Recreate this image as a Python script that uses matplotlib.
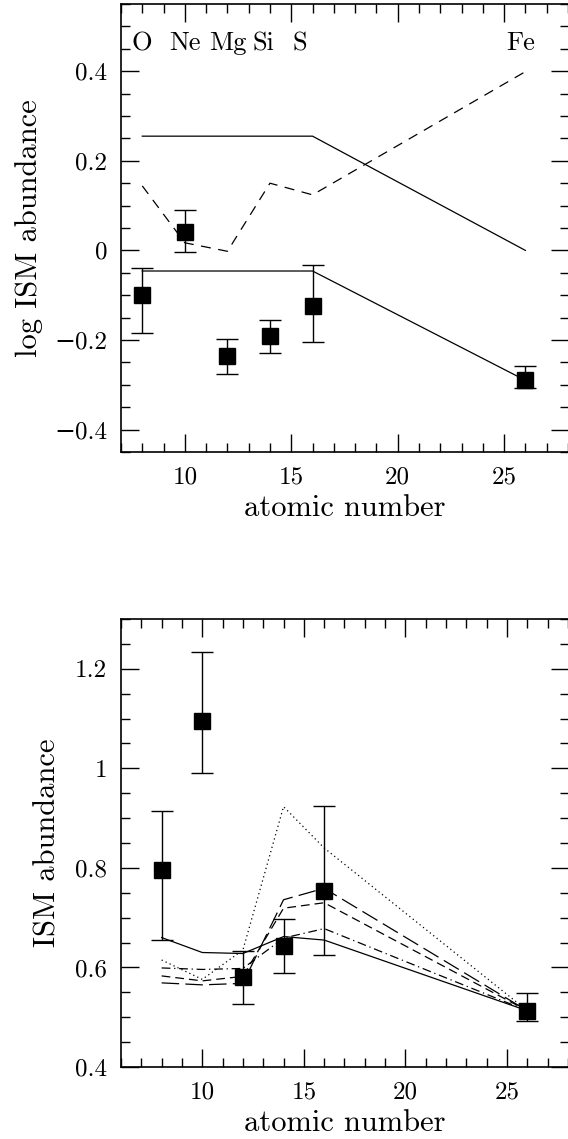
import numpy as np
import matplotlib
matplotlib.use("Agg")
import matplotlib.pyplot as plt
from matplotlib.ticker import MultipleLocator, FuncFormatter

plt.rcParams['font.family'] = ['cmr10', 'DejaVu Serif']

# --- top panel data (log ISM abundance) ---
z = [8, 10, 12, 14, 16, 26]
log_ab = [-0.099, 0.041, -0.235, -0.192, -0.123, -0.290]
log_up = [0.060, 0.049, 0.037, 0.036, 0.090, 0.031]
log_lo = [0.085, 0.044, 0.042, 0.037, 0.081, 0.017]

model_hi = [0.255, 0.255, 0.255, 0.255, 0.255, 0.0]
model_lo = [-0.046, -0.046, -0.046, -0.046, -0.046, -0.290]
model_dash = [0.144, 0.017, -0.002, 0.150, 0.124, 0.399]

elem_names = ['O', 'Ne', 'Mg', 'Si', 'S', 'Fe']
elem_x = [8.0, 10.0, 12.0, 13.7, 15.4, 25.8]

# --- bottom panel data (linear ISM abundance) ---
ab = [0.795, 1.095, 0.580, 0.643, 0.754, 0.513]
ab_up = [0.120, 0.138, 0.053, 0.054, 0.171, 0.035]
ab_lo = [0.140, 0.104, 0.053, 0.055, 0.129, 0.021]

m_solid = [0.660, 0.630, 0.628, 0.662, 0.655, 0.513]
m_dot = [0.615, 0.576, 0.635, 0.923, 0.840, 0.513]
m_dashdot = [0.599, 0.596, 0.598, 0.659, 0.678, 0.513]
m_shortdash = [0.583, 0.573, 0.582, 0.719, 0.730, 0.513]
m_longdash = [0.569, 0.565, 0.568, 0.736, 0.759, 0.513]

fig = plt.figure(figsize=(5.68, 11.39), dpi=100)
W = 448 / 568
H = 448 / 1139
ax1 = fig.add_axes([121 / 568, 1 - 452 / 1139, W, H])
ax2 = fig.add_axes([121 / 568, 1 - 1067 / 1139, W, H])

lw = 0.9


def style(ax, ylo, yhi, xlo, xhi):
    ax.set_xlim(xlo, xhi)
    ax.set_ylim(ylo, yhi)
    ax.xaxis.set_major_locator(MultipleLocator(5))
    ax.xaxis.set_minor_locator(MultipleLocator(1))
    ax.yaxis.set_major_locator(MultipleLocator(0.2))
    ax.yaxis.set_minor_locator(MultipleLocator(0.05))
    ax.tick_params(which='both', direction='in', top=True, right=True,
                   width=1.0, labelsize=18)
    ax.tick_params(axis='x', pad=10)
    ax.tick_params(axis='y', pad=10)
    ax.tick_params(which='major', length=13)
    ax.tick_params(which='minor', length=6.5)
    for s in ax.spines.values():
        s.set_linewidth(1.2)
    ax.set_xlabel('atomic number', fontsize=22, labelpad=5)


# top panel
ax1.plot(z, model_hi, color='black', lw=lw)
ax1.plot(z, model_lo, color='black', lw=lw)
ax1.plot(z, model_dash, color='black', lw=lw, linestyle=(0, (8, 6)))
ax1.errorbar(z, log_ab, yerr=[log_lo, log_up], fmt='s', color='black',
             ms=12, elinewidth=1.0, capsize=8, capthick=1.0)
for name, x in zip(elem_names, elem_x):
    ax1.text(x, 0.462, name, fontsize=19, ha='center', va='center')
style(ax1, -0.45, 0.55, 7, 28.05)
ax1.set_ylabel('log ISM abundance', fontsize=22, labelpad=8)
ax1.yaxis.set_major_formatter(
    FuncFormatter(lambda v, p: ('%g' % round(v, 2)).replace('-', '\u2212')))

# bottom panel
ax2.plot(z, m_solid, color='black', lw=lw)
ax2.plot(z, m_dot, color='black', lw=lw, linestyle=(0, (1, 2.5)))
ax2.plot(z, m_dashdot, color='black', lw=lw, linestyle=(0, (7, 3, 1, 3)))
ax2.plot(z, m_shortdash, color='black', lw=lw, linestyle=(0, (7, 4)))
ax2.plot(z, m_longdash, color='black', lw=lw, linestyle=(0, (14, 5)))
ax2.errorbar(z, ab, yerr=[ab_lo, ab_up], fmt='s', color='black',
             ms=12, elinewidth=1.0, capsize=8, capthick=1.0)
style(ax2, 0.4, 1.3, 6, 28.05)
ax2.set_ylabel('ISM abundance', fontsize=22, labelpad=10)
ax2.yaxis.set_major_formatter(
    FuncFormatter(lambda v, p: '%g' % round(v, 2)))

fig.savefig('out.png', dpi=100)
